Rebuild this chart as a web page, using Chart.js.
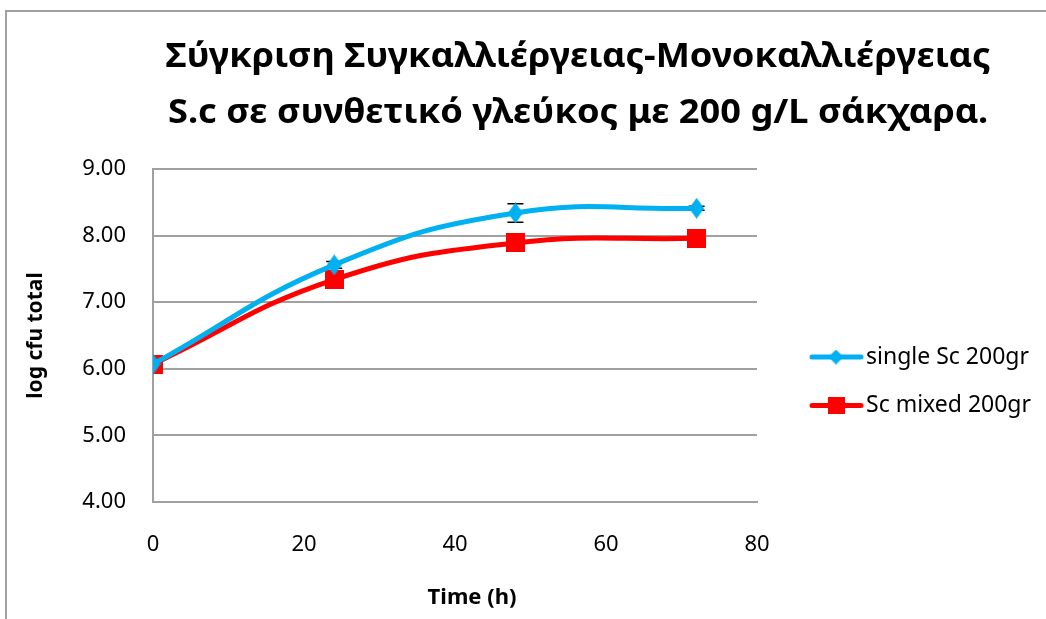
<!DOCTYPE html>
<html><head><meta charset="utf-8">
<script src="https://cdn.jsdelivr.net/npm/chart.js@4.4.0/dist/chart.umd.min.js"></script>
<style>
html,body{margin:0;padding:0;background:#fff;overflow:hidden}
#wrap{position:relative;width:1046px;height:619px;overflow:hidden}
#frame{position:absolute;left:5px;top:10px;width:1200px;height:800px;border-left:2px solid #a0a0a0;border-top:2px solid #a0a0a0;box-sizing:border-box}
canvas{position:absolute;left:0;top:0}
</style></head><body>
<div id="wrap"><div id="frame"></div><canvas id="c" width="1046" height="619"></canvas></div>
<script>
const titleLines = ['Σύγκριση Συγκαλλιέργειας-Μονοκαλλιέργειας', 'S.c σε συνθετικό γλεύκος με 200 g/L σάκχαρα.'];
const xAxisTitle = 'Time (h)';
const yAxisTitle = 'log cfu total';
const seriesNames = ['single Sc 200gr', 'Sc mixed 200gr'];
const timeHours = [0, 24, 48, 72];
const singleSc = [6.07, 7.56, 8.34, 8.41];
const singleScErr = [0, 0.05, 0.14, 0.03];
const mixedSc = [6.07, 7.34, 7.89, 7.96];
const mixedScErr = [0, 0.04, 0.04, 0.03];
const xTickValues = [0, 20, 40, 60, 80];
const yTickValues = [4, 5, 6, 7, 8, 9];

const BLUE = '#00B0F0', RED = '#FF0000', GRID = '#a0a0a0';
const FONT = "'Noto Sans', 'DejaVu Sans', sans-serif";

function makeDiamond(w, h, color) {
  const c = document.createElement('canvas'); c.width = w; c.height = h;
  const g = c.getContext('2d'); g.fillStyle = color; g.beginPath();
  g.moveTo(w / 2, 0); g.lineTo(w, h / 2); g.lineTo(w / 2, h); g.lineTo(0, h / 2); g.closePath(); g.fill();
  return c;
}
function makeSquare(s, color) {
  const c = document.createElement('canvas'); c.width = s; c.height = s;
  const g = c.getContext('2d'); g.fillStyle = color; g.fillRect(0, 0, s, s);
  return c;
}
const diamondImg = makeDiamond(15, 21, BLUE);
const squareImg = makeSquare(19, RED);
const diamondLeg = makeDiamond(15, 15, BLUE);
const squareLeg = makeSquare(17, RED);

const toPoints = (xs, ys) => xs.map((x, i) => ({x: x, y: ys[i]}));

const errorBars = {
  id: 'errorBars',
  beforeDatasetsDraw(chart) {
    const ctx = chart.ctx, ys = chart.scales.y;
    const errs = [singleScErr, mixedScErr];
    ctx.save(); ctx.strokeStyle = '#000'; ctx.lineWidth = 1.5;
    chart.data.datasets.forEach((ds, di) => {
      const meta = chart.getDatasetMeta(di);
      meta.data.forEach((pt, i) => {
        const v = ds.data[i].y, e = errs[di][i];
        if (!e) return;
        const y1 = ys.getPixelForValue(v + e), y2 = ys.getPixelForValue(v - e);
        ctx.beginPath();
        ctx.moveTo(pt.x, y1); ctx.lineTo(pt.x, y2);
        ctx.moveTo(pt.x - 8, y1); ctx.lineTo(pt.x + 8, y1);
        ctx.moveTo(pt.x - 8, y2); ctx.lineTo(pt.x + 8, y2);
        ctx.stroke();
      });
    });
    ctx.restore();
  }
};

const decorations = {
  id: 'decorations',
  afterDraw(chart) {
    const ctx = chart.ctx, ca = chart.chartArea;
    ctx.save();
    ctx.fillStyle = '#000';
    ctx.font = 'bold 34px ' + FONT;
    ctx.textAlign = 'center'; ctx.textBaseline = 'middle';
    const sx = 825 / ctx.measureText(titleLines[0]).width;
    titleLines.forEach((t, i) => {
      ctx.save(); ctx.translate(578, 57 + i * 56); ctx.scale(sx, 1);
      ctx.fillText(t, 0, 0); ctx.restore();
    });
    ctx.font = 'bold 22px ' + FONT;
    ctx.fillText(xAxisTitle, 472, 598);
    ctx.font = 'bold 21px ' + FONT;
    ctx.save(); ctx.translate(36, (ca.top + ca.bottom) / 2); ctx.rotate(-Math.PI / 2);
    ctx.fillText(yAxisTitle, 0, 0); ctx.restore();
    const items = [[BLUE, diamondLeg], [RED, squareLeg]];
    items.forEach((it, i) => {
      const y = 357 + i * 48.5;
      ctx.strokeStyle = it[0]; ctx.lineWidth = 5; ctx.lineCap = 'round';
      ctx.beginPath(); ctx.moveTo(812, y); ctx.lineTo(861, y); ctx.stroke();
      ctx.drawImage(it[1], 836 - it[1].width / 2, y - it[1].height / 2);
      ctx.font = '23px ' + FONT; ctx.textAlign = 'left'; ctx.fillStyle = '#000';
      ctx.fillText(seriesNames[i], 866, y);
    });
    ctx.restore();
  }
};

new Chart(document.getElementById('c'), {
  type: 'line',
  data: {
    datasets: [
      {label: seriesNames[0], data: toPoints(timeHours, singleSc), borderColor: BLUE, backgroundColor: BLUE,
       borderWidth: 5, tension: 0.45, pointStyle: diamondImg, pointRadius: 10, pointHoverRadius: 10},
      {label: seriesNames[1], data: toPoints(timeHours, mixedSc), borderColor: RED, backgroundColor: RED,
       borderWidth: 5, tension: 0.45, pointStyle: squareImg, pointRadius: 10, pointHoverRadius: 10}
    ]
  },
  options: {
    responsive: false, animation: false, devicePixelRatio: 1,
    layout: {padding: {left: 0, right: 289, top: 169, bottom: 0}},
    plugins: {legend: {display: false}, title: {display: false}, tooltip: {enabled: false}},
    scales: {
      x: {
        type: 'linear', min: 0, max: 80,
        afterFit(s) { s.height = 117; },
        afterBuildTicks(s) { s.ticks = xTickValues.map(v => ({value: v})); },
        grid: {display: false},
        border: {display: true, color: GRID, width: 2},
        ticks: {color: '#000', padding: 22, font: {family: FONT, size: 22}, maxRotation: 0}
      },
      y: {
        min: 4, max: 9,
        afterFit(s) { s.width = 153; },
        afterBuildTicks(s) { s.ticks = yTickValues.map(v => ({value: v})); },
        grid: {color: GRID, lineWidth: 2, drawTicks: false},
        border: {display: true, color: GRID, width: 2},
        ticks: {color: '#000', padding: 27, font: {family: FONT, size: 22}, callback: v => Number(v).toFixed(2)}
      }
    }
  },
  plugins: [errorBars, decorations]
});
</script>
</body></html>
